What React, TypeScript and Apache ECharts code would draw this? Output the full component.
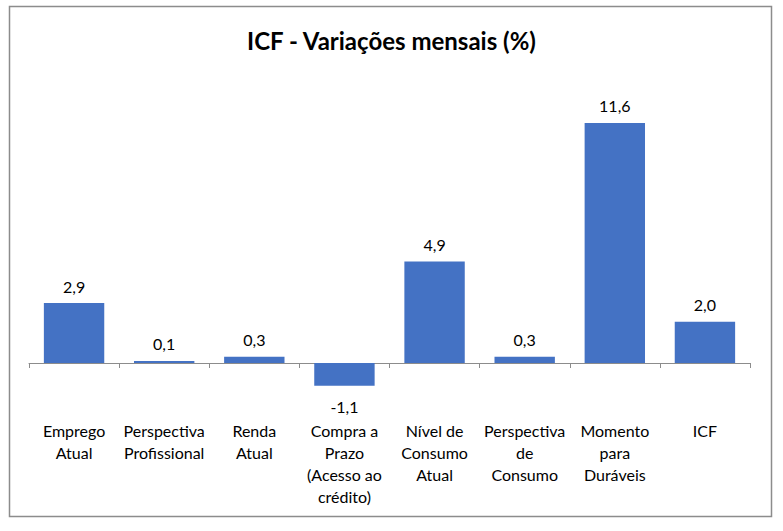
import React, { useEffect, useRef } from "react";
import * as echarts from "echarts";

const categories = [
  "Emprego\nAtual",
  "Perspectiva\nProfissional",
  "Renda\nAtual",
  "Compra a\nPrazo\n(Acesso ao\ncrédito)",
  "Nível de\nConsumo\nAtual",
  "Perspectiva\nde\nConsumo",
  "Momento\npara\nDuráveis",
  "ICF",
];
const values = [2.9, 0.1, 0.3, -1.1, 4.9, 0.3, 11.6, 2.0];
const titleText = "ICF - Variações mensais (%)";

const FONT = "Lato, 'Noto Sans', sans-serif";

export default function App() {
  const ref = useRef<HTMLDivElement>(null);
  useEffect(() => {
    document.body.style.margin = "0";
    const chart = echarts.init(ref.current!, null, { renderer: "svg" });
    chart.setOption({
      animation: false,
      backgroundColor: "#ffffff",
      textStyle: { fontFamily: FONT },
      title: {
        text: titleText,
        left: "center",
        top: 23,
        textStyle: { fontFamily: FONT, fontWeight: "bold", fontSize: 24, color: "#000" },
      },
      graphic: [
        {
          type: "rect",
          shape: { x: 9.5, y: 6.5, width: 762, height: 510 },
          style: { fill: "none", stroke: "#8c8c8c", lineWidth: 1.5 },
          z: 0,
        },
      ],
      grid: { left: 29, right: 33, top: 73.3, height: 331.1, outerBoundsMode: "none", containLabel: false },
      xAxis: {
        type: "category",
        data: categories,
        axisLine: { onZero: true, lineStyle: { color: "#8c8c8c", width: 1 } },
        axisTick: { show: true, length: 5, lineStyle: { color: "#8c8c8c" } },
        axisLabel: {
          interval: 0,
          margin: 15,
          fontFamily: FONT,
          fontSize: 16,
          lineHeight: 22,
          color: "#000",
          verticalAlign: "top",
        },
      },
      yAxis: {
        type: "value",
        min: -2,
        max: 14,
        interval: 2,
        show: false,
        splitLine: { show: false },
      },
      series: [
        {
          type: "bar",
          data: values.map((v) => ({
            value: v,
            label: {
              show: true,
              position: v < 0 ? "bottom" : "top",
              distance: v < 0 ? 13 : 9,
              formatter: (p: any) => p.value.toFixed(1).replace(".", ","),
              fontFamily: FONT,
              fontSize: 16,
              color: "#000",
            },
          })),
          barWidth: "67%",
          itemStyle: { color: "#4472C4" },
        },
      ],
    });
    return () => chart.dispose();
  }, []);
  return <div ref={ref} style={{ width: 783, height: 531 }} />;
}
